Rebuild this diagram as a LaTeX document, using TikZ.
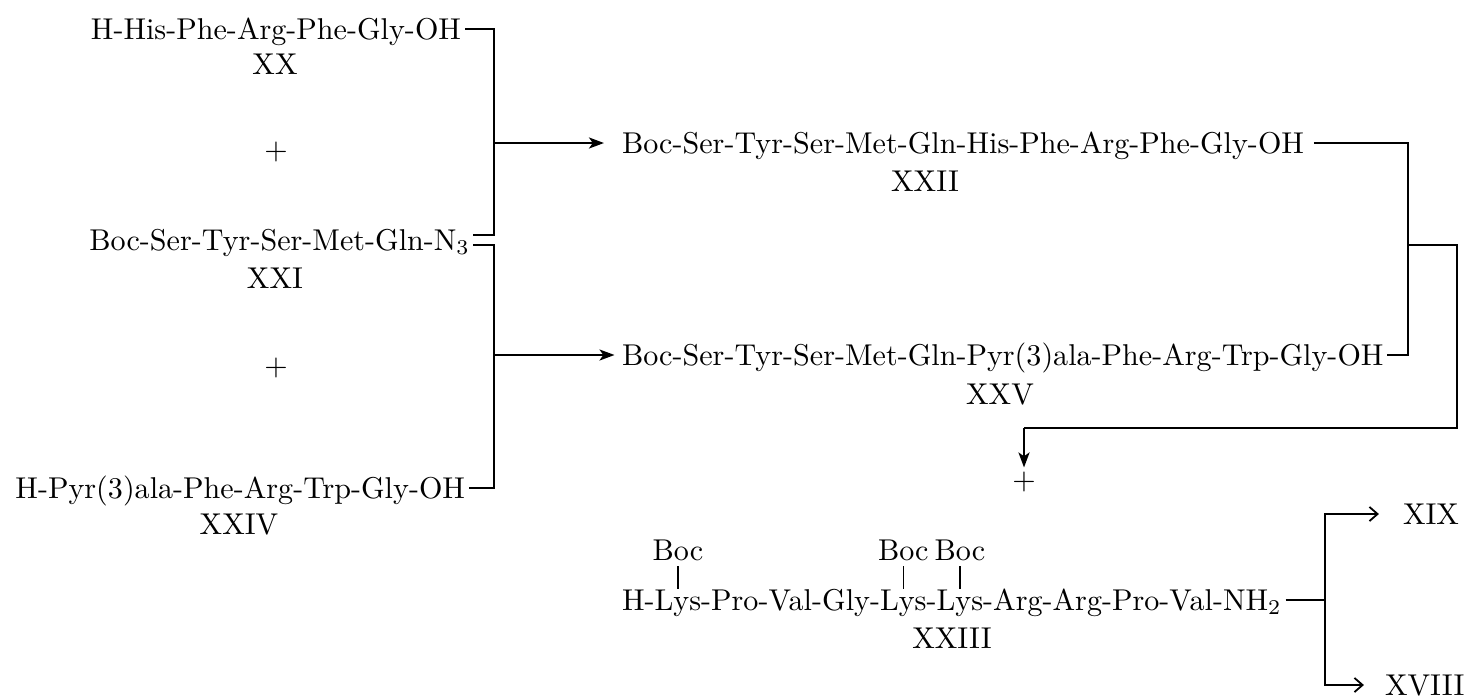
\documentclass[tikz,border=0pt]{standalone}
\usetikzlibrary{arrows.meta,positioning,calc}
\begin{document}
\begin{tikzpicture}[x=0.3322pt,y=-0.3322pt,
  every node/.style={inner sep=0pt, outer sep=0pt, font=\fontsize{10}{12}\selectfont},
  formula/.style={text height=6.84pt, text depth=0pt},
  plus/.style={},
  link/.style={line width=0.6pt},
  arr/.style={link,-{Stealth[length=5pt,width=3.7pt,inset=1.3pt]}},
  barb/.style={link,-{Straight Barb[length=2.7pt,width=4.7pt]}},
  tick/.style={line width=0.5pt}
]
\useasboundingbox (0,0) rectangle (1469,697);

% left column
\node[formula, anchor=east] (f20) at (461,29) {H-His-Phe-Arg-Phe-Gly-OH};
\node[formula] (l20) at (275,64) {XX};
\node[plus] (plus1) at (276,152) {$+$};
\node[formula, anchor=east] (f21) at (470,240) {Boc-Ser-Tyr-Ser-Met-Gln-N$_3$};
\node[formula] (l21) at (275,278) {XXI};
\node[plus] (plus2) at (276,368) {$+$};
\node[formula, anchor=east] (f24) at (465,488) {H-Pyr(3)ala-Phe-Arg-Trp-Gly-OH};
\node[formula] (l24) at (239,524) {XXIV};

% middle column
\node[formula, anchor=west] (f22) at (622,143) {Boc-Ser-Tyr-Ser-Met-Gln-His-Phe-Arg-Phe-Gly-OH};
\node[formula] (l22) at (925,181) {XXII};
\node[formula, anchor=west] (f25) at (622,355) {Boc-Ser-Tyr-Ser-Met-Gln-Pyr(3)ala-Phe-Arg-Trp-Gly-OH};
\node[formula] (l25) at (1000,394) {XXV};
\node[plus] (plus3) at (1024,482) {$+$};

% protected decapeptide amide
\node[formula, anchor=west] (h1) at (622,600) {H-};
\node[formula, anchor=west] (lys1) at (h1.east) {Lys};
\node[formula, anchor=west] (p2) at (lys1.east) {-Pro-Val-Gly-};
\node[formula, anchor=west] (lys2) at (p2.east) {Lys};
\node[formula, anchor=west] (p3) at (lys2.east) {-};
\node[formula, anchor=west] (lys3) at (p3.east) {Lys};
\node[formula, anchor=west] (p4) at (lys3.east) {-Arg-Arg-Pro-Val-NH$_2$};
\node[formula, above=9.8pt of lys1] (boc1) {Boc};
\node[formula, above=9.8pt of lys2] (boc2) {Boc};
\node[formula, above=9.8pt of lys3] (boc3) {Boc};
\node[formula] (l23) at (952,638) {XXIII};
\draw[tick, shorten <=0.4pt, shorten >=2pt] (lys1.north) -- (boc1.south);
\draw[tick, shorten <=0.4pt, shorten >=2pt] (lys2.north) -- (boc2.south);
\draw[tick, shorten <=0.4pt, shorten >=2pt] (lys3.north) -- (boc3.south);

% products
\node[formula, anchor=west] (xix) at (1403,514) {XIX};
\node[formula, anchor=west] (xviii) at (1385,685) {XVIII};

% left bracket
\coordinate (t1) at (494,29);
\coordinate (m1) at (494,235);
\coordinate (m2) at (494,245);
\coordinate (b1) at (494,488);
\coordinate (j1) at (494,143);
\coordinate (j2) at (494,355);
\draw[link] ($(f20.east)+(4,0)$) -- (t1) -- (m1) -- ($(f21.east)+(3,-5)$);
\draw[link] ($(f21.east)+(3,5)$) -- (m2) -- (b1) -- ($(f24.east)+(4,0)$);
\draw[arr, shorten >=6pt] (j1) -- (f22.west);
\draw[arr, shorten >=2.5pt] (j2) -- (f25.west);

% right bracket
\coordinate (r1) at (1408,143);
\coordinate (r2) at (1408,355);
\coordinate (r3) at (1408,245);
\coordinate (r4) at (1457,245);
\coordinate (r5) at (1457,428);
\coordinate (r6) at (plus3 |- r5);
\draw[link] ($(f22.east)+(10,0)$) -- (r1) -- (r2) -- ($(f25.east)+(4,0)$);
\draw[link] (r3) -- (r4) -- (r5) -- (r6);
\draw[arr, shorten >=1.5pt] (r6) -- (plus3);

% branching to products
\coordinate (s1) at (1325,600);
\coordinate (s2) at (s1 |- xix.west);
\coordinate (s3) at (s1 |- xviii.west);
\draw[link] ($(p4.east)+(4,0)$) -- (s1);
\draw[barb, shorten >=8pt] (s1) -- (s2) -- (xix.west);
\draw[barb, shorten >=7pt] (s1) -- (s3) -- (xviii.west);
\end{tikzpicture}
\end{document}
